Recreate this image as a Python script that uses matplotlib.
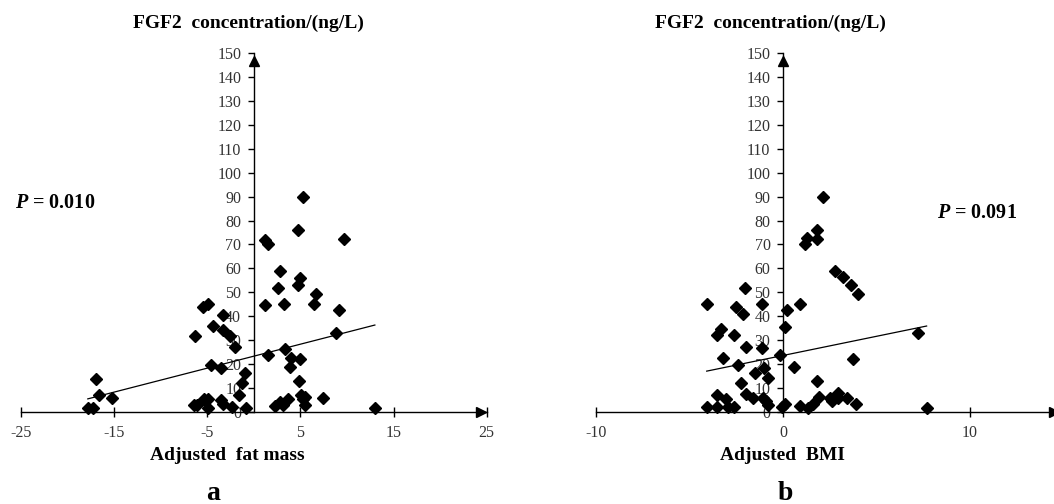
import matplotlib.pyplot as plt
import numpy as np

plt.rcParams['font.family'] = ['Liberation Serif', 'DejaVu Serif']
plt.rcParams['mathtext.fontset'] = 'custom'
plt.rcParams['mathtext.bfit'] = 'Liberation Serif:italic:bold'
plt.rcParams['mathtext.rm'] = 'Liberation Serif'

# panel a: adjusted fat mass vs FGF2
fat_x = [-17.8, -17.2, -16.9, -16.6, -15.2, -6.3, -6.4, -6.1, -5.4, -4.9,
         -5.3, -4.9, -4.9, -4.6, -4.4, -3.5, -3.5, -3.3, -3.3, -3.3,
         -2.5, -2.3, -2.0, -1.6, -1.25, -0.97, -0.78, 1.25, 1.25, 1.5,
         1.5, 2.6, 2.8, 3.2, 2.25, 2.8, 3.15, 3.7, 3.4, 4.0,
         3.9, 4.8, 4.7, 5.0, 5.3, 5.0, 4.9, 5.1, 5.5, 5.3,
         5.5, 6.5, 6.65, 7.4, 8.8, 9.15, 9.7, 13.0]
fat_y = [1.8, 1.8, 14.0, 7.1, 6.0, 31.8, 2.9, 3.1, 43.9, 45.0,
         5.7, 5.7, 1.8, 19.6, 35.8, 18.5, 5.3, 3.6, 40.7, 34.4,
         31.8, 2.2, 27.2, 7.4, 12.2, 16.5, 1.8, 44.6, 72.0, 70.3,
         24.0, 51.8, 58.9, 45.0, 2.6, 4.3, 2.9, 5.7, 26.5, 22.8,
         18.9, 76.1, 52.9, 56.1, 89.7, 22.1, 13.0, 7.4, 6.4, 5.5,
         3.2, 45.0, 49.2, 6.1, 33.0, 42.5, 72.4, 2.0]
fat_fit = (1.0, 23.4)   # slope, intercept of the drawn trend line
fat_p = "0.010"

# panel b: adjusted BMI vs FGF2
bmi_x = [-4.08, -3.55, -3.3, -3.2, -4.08, -3.55, -3.55, -3.05, -2.96, -2.62,
         -2.62, -2.5, -2.15, -2.03, -2.0, -2.4, -2.26, -2.0, -1.59, -1.5,
         -1.14, -1.14, -1.02, -1.09, -0.82, -0.9, -0.8, -0.16, 0.11, 0.2,
         -0.07, 0.1, 0.59, 0.91, 0.91, 1.32, 1.62, 1.18, 1.27, 1.8,
         1.83, 2.16, 1.83, 1.94, 2.51, 2.6, 2.92, 2.92, 3.4, 3.89,
         2.78, 3.23, 3.62, 4.03, 3.76, 7.2, 7.68]
bmi_y = [45.0, 32.2, 34.7, 22.8, 2.3, 7.2, 2.3, 5.4, 2.3, 2.3,
         32.2, 44.0, 40.8, 51.9, 27.3, 19.7, 12.1, 7.5, 5.8, 16.5,
         45.0, 26.7, 18.3, 5.8, 14.2, 4.6, 3.2, 23.9, 35.7, 42.6,
         2.3, 3.3, 19.0, 45.0, 2.8, 1.9, 3.3, 70.4, 72.5, 72.1,
         76.2, 89.8, 13.2, 6.5, 5.8, 4.8, 5.8, 7.9, 5.8, 3.3,
         59.0, 56.5, 53.0, 49.2, 22.2, 33.2, 1.9]
bmi_fit = (1.6, 23.7)
bmi_p = "0.091"

y_ticks = list(range(0, 151, 10))

W, H = 1054, 504
fig = plt.figure(figsize=(W / 100, H / 100), dpi=100)


def px_axes(x0, x1, y_top, y_bot):
    return fig.add_axes([x0 / W, 1 - y_bot / H, (x1 - x0) / W, (y_bot - y_top) / H])


def draw_panel(ax, xs, ys, fit, xlim, xticks, arrow_x):
    ax.set_xlim(*xlim)
    ax.set_ylim(0, 150)
    for s in ['top', 'right']:
        ax.spines[s].set_visible(False)
    ax.spines['left'].set_position(('data', 0))
    for s in ['left', 'bottom']:
        ax.spines[s].set_linewidth(1.0)
    ax.set_xticks(xticks)
    ax.set_xticklabels([str(t) for t in xticks])
    ax.set_yticks(y_ticks)
    ax.tick_params(axis='x', direction='inout', length=7, width=1.0, pad=6,
                   labelsize=11.5, labelcolor='#333333')
    ax.tick_params(axis='y', direction='out', length=4, width=1.0, pad=5,
                   labelsize=11.5, labelcolor='#333333')
    ax.plot(xs, ys, 'D', color='black', ms=6.5, clip_on=False, zorder=3)
    lx = np.array([min(xs), max(xs)])
    ax.plot(lx, fit[0] * lx + fit[1], color='black', lw=0.9)
    # arrow heads at axis ends
    ax.plot([0], [146.5], marker='^', color='black', ms=7, clip_on=False)
    ax.plot([arrow_x], [0], marker='>', color='black', ms=7, clip_on=False)


ax1 = px_axes(20.7, 486.7, 52.7, 412.3)
draw_panel(ax1, fat_x, fat_y, fat_fit, (-25, 25), [-25, -15, -5, 5, 15, 25], 24.4)

ax2 = px_axes(596, 1063.5, 52.7, 412.3)
draw_panel(ax2, bmi_x, bmi_y, bmi_fit, (-10, 15), [-10, 0, 10, 15], 14.5)
ax2.get_xticklabels()[-1].set_visible(False)

title = "FGF2  concentration/(ng/L)"
fig.text(248 / W, 1 - 23 / H, title, ha='center', va='center', fontsize=14, fontweight='bold')
fig.text(770 / W, 1 - 23 / H, title, ha='center', va='center', fontsize=14, fontweight='bold')

fig.text(227 / W, 1 - 456 / H, "Adjusted  fat mass", ha='center', va='center', fontsize=14, fontweight='bold')
fig.text(782 / W, 1 - 456 / H, "Adjusted  BMI", ha='center', va='center', fontsize=14, fontweight='bold')

fig.text(213 / W, 1 - 500 / H, "a", ha='center', va='baseline', fontsize=20, fontweight='bold')
fig.text(785 / W, 1 - 500 / H, "b", ha='center', va='baseline', fontsize=20, fontweight='bold')

fig.text(15 / W, 1 - 203 / H, "$\\mathbfit{P}$ = " + fat_p, ha='left', va='center',
         fontsize=14.5, fontweight='bold')
fig.text(937 / W, 1 - 213 / H, "$\\mathbfit{P}$ = " + bmi_p, ha='left', va='center',
         fontsize=14.5, fontweight='bold')

fig.savefig('out.png', dpi=100)
